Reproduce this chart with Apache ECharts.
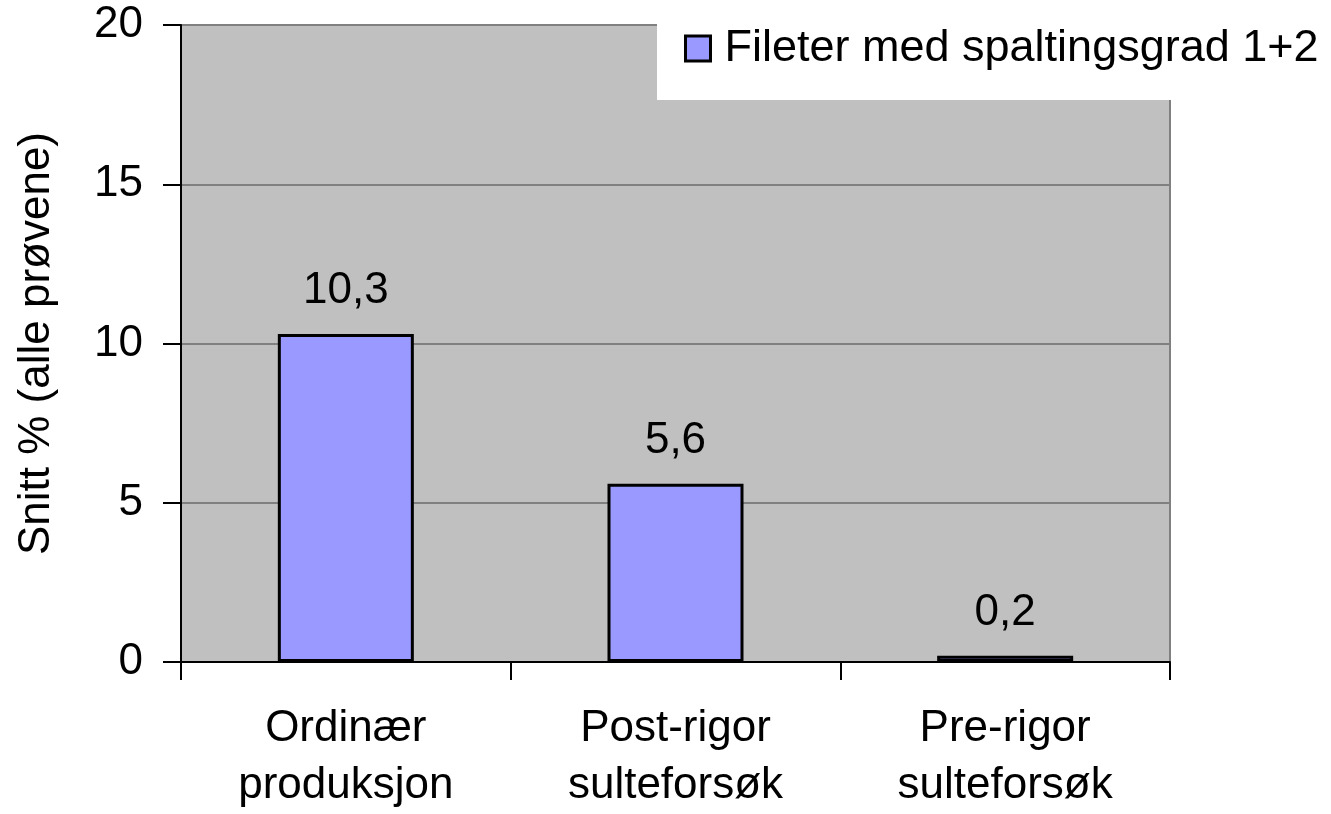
<!DOCTYPE html>
<html>
<head>
<meta charset="utf-8">
<script src="https://cdn.jsdelivr.net/npm/echarts@6/dist/echarts.min.js"></script>
<style>
html,body{margin:0;padding:0;background:#fff;}
#chart{width:1331px;height:814px;}
</style>
</head>
<body>
<div id="chart"></div>
<script>
const categories = ["Ordinær\nproduksjon", "Post-rigor\nsulteforsøk", "Pre-rigor\nsulteforsøk"];
const values = [10.3, 5.6, 0.2];
const seriesName = "Fileter med spaltingsgrad 1+2";
const yAxisName = "Snitt % (alle prøvene)";
const yTicks = { min: 0, max: 20, interval: 5 };

const FONT = '"Liberation Sans", Arial, sans-serif';
const FS = 44;
const chart = echarts.init(document.getElementById('chart'));
chart.setOption({
  animation: false,
  textStyle: { fontFamily: FONT },
  grid: {
    left: 181, right: 161, top: 25, bottom: 150,
    show: true, backgroundColor: '#C0C0C0', borderColor: '#808080', borderWidth: 2
  },
  graphic: [{
    type: 'rect', left: 657, top: 0, z: 3,
    shape: { width: 680, height: 100 },
    style: { fill: '#FFFFFF' }
  }],
  legend: {
    left: 684, top: 26, z: 5, padding: 0,
    itemWidth: 25, itemHeight: 25, itemGap: 10,
    textStyle: { fontSize: 45, color: '#000', fontFamily: FONT, padding: [0, 0, 0, 9] },
    data: [{ name: seriesName, icon: 'rect', itemStyle: { color: '#9999FF', borderColor: '#000', borderWidth: 3 } }]
  },
  xAxis: {
    type: 'category',
    data: categories,
    axisLine: { lineStyle: { color: '#000', width: 2 } },
    axisTick: { show: true, length: 18, lineStyle: { color: '#000', width: 2 } },
    axisLabel: { fontSize: FS, color: '#000', lineHeight: 57, margin: 38, fontFamily: FONT }
  },
  yAxis: {
    type: 'value',
    min: yTicks.min, max: yTicks.max, interval: yTicks.interval,
    name: yAxisName,
    nameLocation: 'middle',
    nameGap: 122,
    nameTextStyle: { fontSize: FS, color: '#000', fontFamily: FONT },
    axisLine: { show: true, lineStyle: { color: '#000', width: 2 } },
    axisTick: { show: true, length: 18, lineStyle: { color: '#000', width: 2 } },
    axisLabel: { fontSize: FS, color: '#000', margin: 38, fontFamily: FONT },
    splitLine: { show: true, lineStyle: { color: '#808080', width: 2 } }
  },
  series: [{
    name: seriesName,
    type: 'bar',
    data: values,
    barWidth: 136,
    itemStyle: { color: '#9999FF', borderColor: '#000', borderWidth: 3 },
    label: {
      show: true, position: 'top', distance: 21,
      fontSize: FS, color: '#000', fontFamily: FONT,
      formatter: p => String(p.value).replace('.', ',')
    }
  }]
});
</script>
</body>
</html>
